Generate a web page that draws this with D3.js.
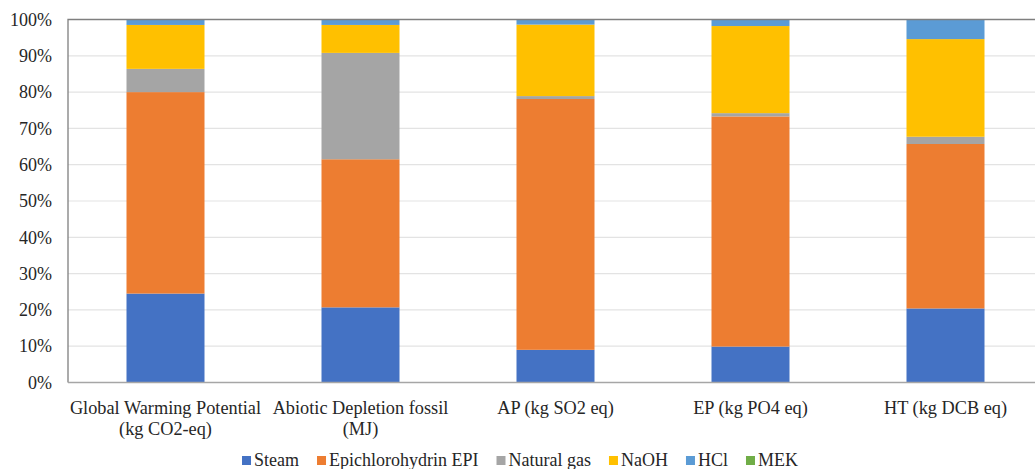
<!DOCTYPE html>
<html>
<head>
<meta charset="utf-8">
<script src="https://cdn.jsdelivr.net/npm/d3@7"></script>
</head>
<body style="margin:0;background:#fff">
<svg id="fig" width="1035" height="469" style="display:block"></svg>
<script>
// Impact categories (x axis), two-line labels
const categories = [
  "Global Warming Potential|(kg CO2-eq)",
  "Abiotic Depletion fossil|(MJ)",
  "AP (kg SO2 eq)",
  "EP (kg PO4 eq)",
  "HT (kg DCB eq)"
];

// Contributors, in stacking order (bottom to top)
const seriesNames = ["Steam", "Epichlorohydrin EPI", "Natural gas", "NaOH", "HCl", "MEK"];
const seriesColors = ["#4472C4", "#ED7D31", "#A5A5A5", "#FFC000", "#5B9BD5", "#70AD47"];

// Share of each contributor per category, in percent
const steam   = [24.5, 20.7,  9.0,  9.9, 20.4];
const epi     = [55.5, 40.8, 69.1, 63.4, 45.3];
const natGas  = [ 6.4, 29.3,  0.8,  0.9,  2.0];
const naoh    = [12.1,  7.7, 19.7, 24.0, 26.9];
const hcl     = [ 1.5,  1.5,  1.4,  1.8,  5.4];
const mek     = [ 0.0,  0.0,  0.0,  0.0,  0.0];

const yTicks = [0, 10, 20, 30, 40, 50, 60, 70, 80, 90, 100];

const FONT = "Liberation Serif";
const TEXT_COLOR = "#262626";

// Apply the serif face to a text selection
function serif(sel, size) {
  sel.attr("font-family", FONT)
    .attr("font-size", size)
    .style("font-family", "'Liberation Serif', serif", "important")
    .style("font-size", size + "px")
    .attr("fill", TEXT_COLOR);
  return sel;
}

const seriesValues = [steam, epi, natGas, naoh, hcl, mek];
const rows = categories.map((c, i) => {
  const r = { category: c };
  seriesNames.forEach((s, j) => { r[s] = seriesValues[j][i]; });
  return r;
});

const svg = d3.select("#fig");
const margin = { left: 68, top: 19.5, right: -8, bottom: 86.5 };
const W = 1035, H = 469;

const x = d3.scaleBand()
  .domain(categories)
  .range([margin.left, W - margin.right])
  .paddingInner(0.6)
  .paddingOuter(0.3);

const y = d3.scaleLinear()
  .domain([0, 100])
  .range([H - margin.bottom, margin.top]);

const color = d3.scaleOrdinal().domain(seriesNames).range(seriesColors);

// Gridlines
svg.append("g")
  .selectAll("line")
  .data(yTicks.filter(t => t > 0))
  .join("line")
  .attr("x1", margin.left)
  .attr("x2", W)
  .attr("y1", d => y(d))
  .attr("y2", d => y(d))
  .attr("stroke", "#e3e3e3")
  .attr("stroke-width", 1.2);

// Stacked bars
const stacked = d3.stack().keys(seriesNames)(rows);
svg.append("g")
  .selectAll("g")
  .data(stacked)
  .join("g")
  .attr("fill", d => color(d.key))
  .selectAll("rect")
  .data(d => d)
  .join("rect")
  .attr("x", d => x(d.data.category))
  .attr("width", x.bandwidth())
  .attr("y", d => y(d[1]))
  .attr("height", d => Math.max(0, y(d[0]) - y(d[1])));

// Plot frame: top and left edges, then the category axis line
svg.append("path")
  .attr("d", `M${W},${margin.top}H${margin.left}V${y(0)}`)
  .attr("fill", "none")
  .attr("stroke", "#7f7f7f")
  .attr("stroke-width", 1.3);

svg.append("line")
  .attr("x1", margin.left).attr("x2", W)
  .attr("y1", y(0)).attr("y2", y(0))
  .attr("stroke", "#a6a6a6")
  .attr("stroke-width", 1.5);

// Y axis tick labels
const yAxis = d3.axisLeft(y)
  .tickValues(yTicks)
  .tickFormat(d => d + "%")
  .tickSize(0)
  .tickPadding(16);
const gy = svg.append("g")
  .attr("transform", `translate(${margin.left},0)`)
  .call(yAxis)
  .attr("font-family", FONT);
gy.select(".domain").remove();
serif(gy.selectAll("text"), 18);

// X axis category labels (two lines where needed)
const xLabels = svg.append("g");
categories.forEach(c => {
  const lines = c.split("|");
  const cx = x(c) + x.bandwidth() / 2;
  const t = serif(xLabels.append("text"), 18.3)
    .attr("text-anchor", "middle")
    .attr("x", cx)
    .attr("y", 414);
  lines.forEach((ln, i) => {
    t.append("tspan")
      .attr("x", cx)
      .attr("dy", i === 0 ? 0 : 21)
      .text(ln);
  });
});

// Legend along the bottom
const legend = svg.append("g");
const items = legend.selectAll("g")
  .data(seriesNames)
  .join("g");
items.append("rect")
  .attr("width", 9).attr("height", 9)
  .attr("y", -10)
  .attr("fill", d => color(d));
serif(items.append("text"), 18)
  .attr("x", 12)
  .text(d => d);
let cursor = 0;
items.each(function() {
  const g = d3.select(this);
  g.attr("transform", `translate(${cursor},0)`);
  const w = 12 + g.select("text").node().getComputedTextLength();
  cursor += w + 18;
});
const legendWidth = cursor - 18;
legend.attr("transform", `translate(${520 - legendWidth / 2},466)`);
</script>
</body>
</html>
